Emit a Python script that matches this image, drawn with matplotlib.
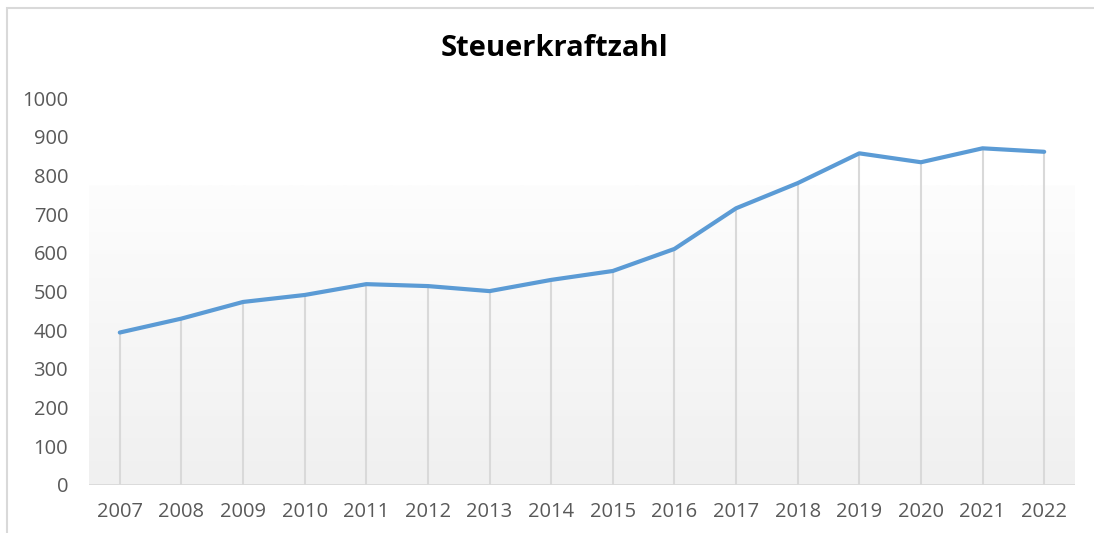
import numpy as np
import matplotlib.pyplot as plt
from matplotlib.patches import Rectangle

years = ["2007", "2008", "2009", "2010", "2011", "2012", "2013", "2014",
         "2015", "2016", "2017", "2018", "2019", "2020", "2021", "2022"]
values = [394, 430, 473, 491, 519, 514, 501, 530,
          553, 610, 715, 780, 857, 834, 870, 861]

plt.rcParams['font.family'] = ['Open Sans', 'DejaVu Sans']

W, H = 1094, 533
fig = plt.figure(figsize=(W / 100, H / 100), dpi=100)
ax = fig.add_axes([89 / W, 1 - 485 / H, (1075 - 89) / W, (485 - 98) / H])

x = np.arange(len(years))
ax.set_xlim(-0.5, len(years) - 0.5)
ax.set_ylim(0, 1000)

# soft gradient panel behind the plot
grad = np.linspace(0, 1, 256).reshape(-1, 1)
ax.imshow(grad, cmap=plt.matplotlib.colors.LinearSegmentedColormap.from_list(
    "g", ["#f0f0f0", "#fdfdfd"]), origin="lower", aspect="auto",
    extent=(-0.5, len(years) - 0.5, 0, 775), zorder=0)

ax.vlines(x, 0, values, colors="#d9d9d9", linewidth=1.5, zorder=1)
ax.plot(x, values, color="#5b9bd5", linewidth=3, solid_capstyle="round", zorder=3)
ax.axhline(0, color="#d9d9d9", linewidth=2, zorder=2)

ax.set_xticks(x)
ax.set_xticklabels(years)
ax.set_yticks(np.arange(0, 1001, 100))
ax.tick_params(axis="both", length=0, labelsize=14.5, colors="#595959")
ax.tick_params(axis="y", pad=15)
ax.tick_params(axis="x", pad=12)
for s in ax.spines.values():
    s.set_visible(False)

fig.text(554 / W, 1 - 48 / H, "Steuerkraftzahl", ha="center", va="center",
         fontsize=21, fontweight="bold", color="black")

fig.patches.append(Rectangle((7 / W, -0.1), 1.2, (H - 8) / H + 0.1,
                             transform=fig.transFigure, fill=False,
                             edgecolor="#d9d9d9", linewidth=1.5))

fig.savefig("out.png", dpi=100)
